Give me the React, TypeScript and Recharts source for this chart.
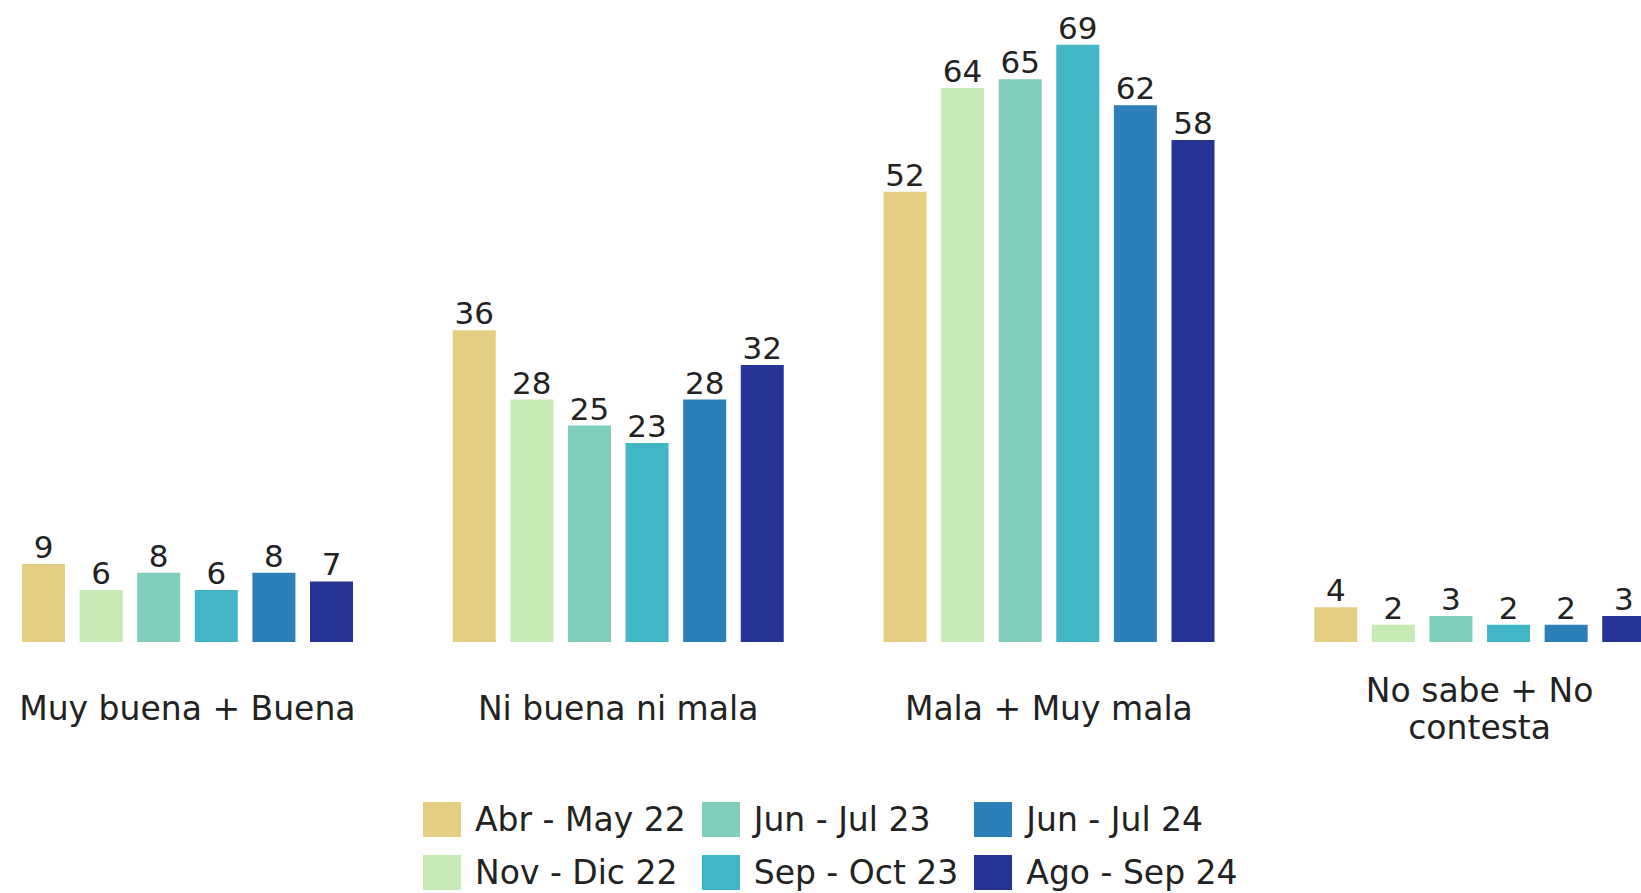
import { BarChart, Bar, XAxis, YAxis, Legend, LabelList } from "recharts";

const categories = [
  "Muy buena + Buena",
  "Ni buena ni mala",
  "Mala + Muy mala",
  "No sabe + No contesta",
];

const seriesNames = [
  "Abr - May 22",
  "Nov - Dic 22",
  "Jun - Jul 23",
  "Sep - Oct 23",
  "Jun - Jul 24",
  "Ago - Sep 24",
];

const abrMay22 = [9, 36, 52, 4];
const novDic22 = [6, 28, 64, 2];
const junJul23 = [8, 25, 65, 3];
const sepOct23 = [6, 23, 69, 2];
const junJul24 = [8, 28, 62, 2];
const agoSep24 = [7, 32, 58, 3];

const colors = ["#E5CD82", "#C7E9B4", "#7FCDBB", "#41B6C4", "#2C7FB8", "#253494"];

const seriesValues = [abrMay22, novDic22, junJul23, sepOct23, junJul24, agoSep24];

const data = categories.map((name, i) => {
  const row: Record<string, string | number> = { name };
  seriesNames.forEach((s, j) => {
    row[s] = seriesValues[j][i];
  });
  return row;
});

const FONT = "DejaVu Sans";

// greedy word wrap, max chars per line
function wrap(label: string, max = 17) {
  const lines: string[] = [];
  let cur = "";
  label.split(" ").forEach((w) => {
    const next = cur ? cur + " " + w : w;
    if (next.length > max && cur) {
      lines.push(cur);
      cur = w;
    } else {
      cur = next;
    }
  });
  if (cur) lines.push(cur);
  return lines;
}

function CategoryTick(props: any) {
  const { x, y, payload } = props;
  const lines = wrap(String(payload.value));
  const lh = 37;
  const first = y + 66 - ((lines.length - 1) * lh) / 2;
  return (
    <text
      x={x}
      textAnchor="middle"
      dominantBaseline="central"
      fontFamily={FONT}
      fontSize={33}
      fill="#222"
    >
      {lines.map((l, i) => (
        <tspan key={i} x={x} y={first + i * lh}>
          {l}
        </tspan>
      ))}
    </text>
  );
}

function LegendGrid() {
  return (
    <div
      style={{
        display: "grid",
        gridTemplateRows: "53px 53px",
        gridAutoFlow: "column",
        columnGap: 16,
        fontFamily: FONT,
        fontSize: 33,
        color: "#222",
      }}
    >
      {seriesNames.map((s, i) => (
        <div key={s} style={{ display: "flex", alignItems: "center", whiteSpace: "nowrap" }}>
          <span
            style={{
              display: "inline-block",
              width: 38,
              height: 35,
              background: colors[i],
              marginRight: 14,
            }}
          />
          {s}
        </div>
      ))}
    </div>
  );
}

export default function App() {
  return (
    <div
      style={{
        position: "absolute",
        left: 0,
        top: 0,
        width: 1641,
        height: 893,
        overflow: "hidden",
        background: "#fff",
      }}
    >
      <div style={{ position: "absolute", left: -28.5, top: 0 }}>
        <BarChart
          width={1723}
          height={893}
          data={data}
          margin={{ top: 36, right: 0, bottom: 191, left: 0 }}
          barSize={43}
          barGap={14.6}
        >
          <XAxis
            dataKey="name"
            axisLine={false}
            tickLine={false}
            tickSize={0}
            tickMargin={0}
            height={60}
            interval={0}
            tick={<CategoryTick />}
          />
          <YAxis hide domain={[0, 70]} />
          <Legend
            layout="horizontal"
            verticalAlign="middle"
            align="center"
            content={<LegendGrid />}
            wrapperStyle={{ top: 793, left: 451.5, width: "auto" }}
          />
          {seriesNames.map((s, i) => (
            <Bar key={s} dataKey={s} fill={colors[i]} isAnimationActive={false}>
              <LabelList
                dataKey={s}
                position="top"
                offset={6}
                fontFamily={FONT}
                fontSize={31}
                fill="#222"
              />
            </Bar>
          ))}
        </BarChart>
      </div>
    </div>
  );
}
